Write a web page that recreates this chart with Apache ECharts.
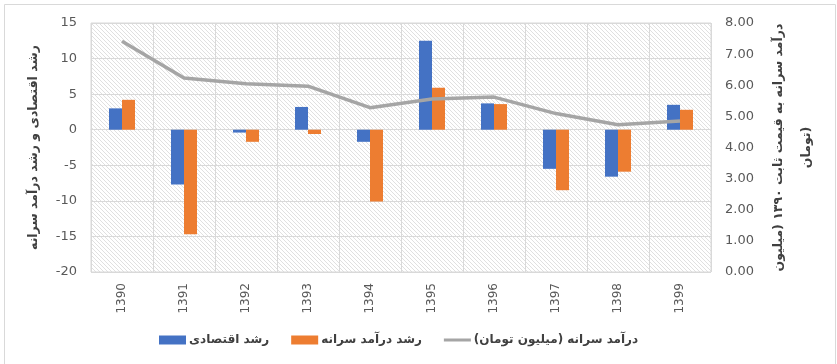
<!DOCTYPE html>
<html><head><meta charset="utf-8">
<script src="https://cdn.jsdelivr.net/npm/echarts@6/dist/echarts.min.js"></script>
<style>html,body{margin:0;padding:0;background:#fff}#c{width:837px;height:364px}</style>
</head><body><div id="c"></div>
<script>
const categories = ['1390','1391','1392','1393','1394','1395','1396','1397','1398','1399'];
const economicGrowth = [3.0, -7.7, -0.4, 3.2, -1.7, 12.5, 3.7, -5.5, -6.6, 3.5];
const incomeGrowth = [4.2, -14.7, -1.7, -0.6, -10.1, 5.9, 3.6, -8.5, -5.9, 2.8];
const perCapitaIncome = [7.41, 6.23, 6.05, 5.97, 5.28, 5.56, 5.62, 5.09, 4.73, 4.85];
const seriesNames = ['رشد اقتصادی', 'رشد درآمد سرانه', 'درآمد سرانه (میلیون تومان)'];
const leftTitle = 'رشد اقتصادی و رشد درآمد سرانه';
const rightTitle = 'درآمد سرانه به قیمت ثابت ۱۳۹۰ (میلیون\nتومان)';

// hatch pattern tile
const n = 4;
const tile = document.createElement('canvas');
tile.width = n; tile.height = n;
const tctx = tile.getContext('2d');
const img = tctx.createImageData(n, n);
for (let y = 0; y < n; y++) for (let x = 0; x < n; x++) {
  const i = (y * n + x) * 4;
  const on = ((x - y) % n + n) % n === 0;
  const v = on ? 224 : 255;
  img.data[i] = v; img.data[i+1] = v; img.data[i+2] = v; img.data[i+3] = 255;
}
tctx.putImageData(img, 0, 0);

const fontAr = '"DejaVu Sans", sans-serif';
const fontNum = '"DejaVu Sans", sans-serif';

const chart = echarts.init(document.getElementById('c'), null, {renderer: 'canvas'});
chart.setOption({
  animation: false,
  graphic: [{type: 'rect', shape: {x: 4.5, y: 4.5, width: 831, height: 400}, style: {fill: 'none', stroke: '#d9d9d9', lineWidth: 1}, silent: true}],
  grid: {left: 91, right: 126, top: 23, bottom: 92, show: true, backgroundColor: {image: tile, repeat: 'repeat'}, borderColor: '#d9d9d9', borderWidth: 1},
  legend: {
    left: 154, top: 329, itemGap: 22, itemWidth: 27, itemHeight: 9,
    textStyle: {fontFamily: fontAr, fontSize: 12, fontWeight: 'bold', color: '#404040', padding: [0, 0, 0, -2]},
    data: [
      {name: seriesNames[0], icon: 'rect'},
      {name: seriesNames[1], icon: 'rect'},
      {name: seriesNames[2], icon: 'path://M0,0 H27 V3 H0 Z'}
    ]
  },
  xAxis: {
    type: 'category', data: categories,
    axisLine: {show: true, lineStyle: {color: '#d9d9d9'}},
    axisTick: {show: false},
    splitLine: {show: true, interval: 0, lineStyle: {color: '#d9d9d9'}},
    axisLabel: {rotate: 90, margin: 11, color: '#595959', fontFamily: fontNum, fontSize: 12}
  },
  yAxis: [
    {
      type: 'value', min: -20, max: 15, interval: 5,
      name: leftTitle, nameLocation: 'middle', nameRotate: 90, nameGap: 51,
      nameTextStyle: {fontFamily: fontAr, fontSize: 12.5, fontWeight: 'bold', color: '#404040'},
      axisLine: {show: false}, axisTick: {show: false},
      splitLine: {show: true, lineStyle: {color: '#d9d9d9'}},
      axisLabel: {color: '#595959', fontFamily: fontNum, fontSize: 13, margin: 14}
    },
    {
      type: 'value', min: 0, max: 8, interval: 1, position: 'right',
      name: rightTitle, nameLocation: 'middle', nameRotate: 90, nameGap: 41,
      nameTextStyle: {fontFamily: fontAr, fontSize: 12.5, fontWeight: 'bold', color: '#404040', lineHeight: 28},
      axisLine: {show: false}, axisTick: {show: false},
      splitLine: {show: false},
      axisLabel: {color: '#595959', fontFamily: fontNum, fontSize: 13, margin: 14, formatter: v => v.toFixed(2)}
    }
  ],
  series: [
    {name: seriesNames[0], type: 'bar', data: economicGrowth, barWidth: 13, barGap: '0%', itemStyle: {color: '#4472c4'}},
    {name: seriesNames[1], type: 'bar', data: incomeGrowth, barWidth: 13, barGap: '0%', itemStyle: {color: '#ed7d31'}},
    {name: seriesNames[2], type: 'line', yAxisIndex: 1, data: perCapitaIncome, symbol: 'none', lineStyle: {color: '#a5a5a5', width: 3.5}, itemStyle: {color: '#a5a5a5'}}
  ]
});
</script></body></html>
